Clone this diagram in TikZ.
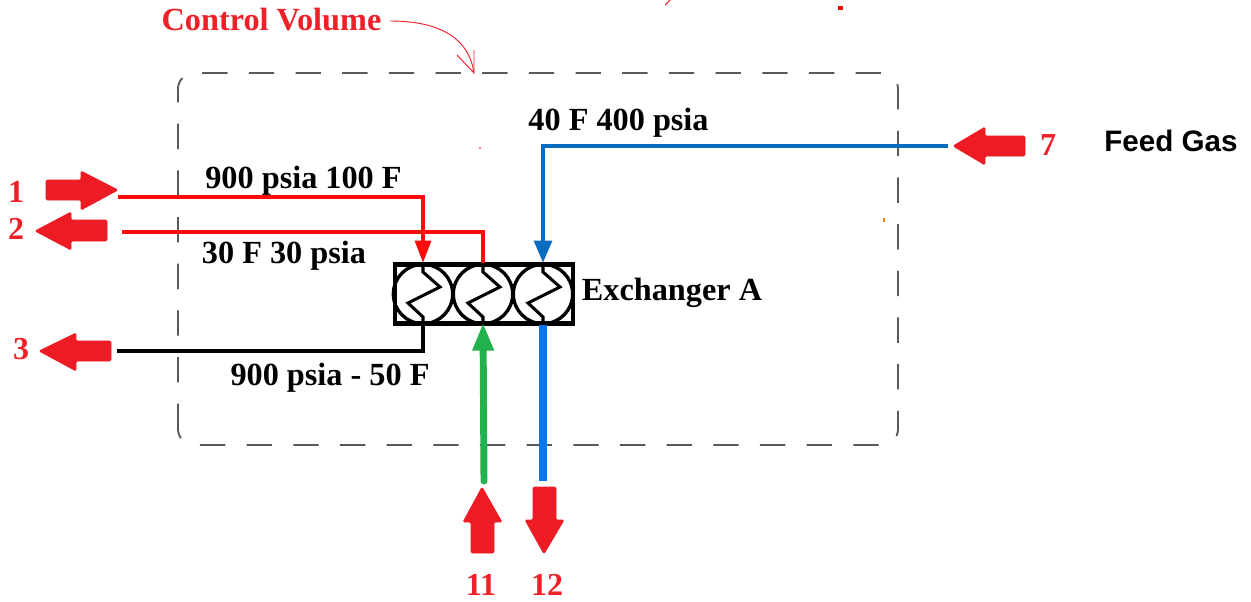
\documentclass[tikz,border=0pt]{standalone}
\usepackage{fontspec}
\setmainfont{Liberation Serif}
\newfontfamily\labsans{Liberation Sans}
\usetikzlibrary{arrows.meta}
\definecolor{blockred}{HTML}{ED1C24}
\definecolor{labred}{HTML}{F02028}
\definecolor{linered}{HTML}{FF0A0A}
\definecolor{darkblue}{HTML}{0A6CC0}
\definecolor{brightblue}{HTML}{0078F5}
\definecolor{midgreen}{HTML}{22B14C}
\tikzset{
  x=0.75pt,y=-0.75pt,
  lab/.style={font=\fontsize{24.2pt}{26pt}\selectfont\bfseries,inner sep=0pt,anchor=base},
  numlab/.style={lab,text=labred,font=\fontsize{24pt}{26pt}\selectfont\bfseries},
  blockarrow/.style={fill=blockred,draw=blockred,line width=0.5pt,line join=round,rounded corners=1pt},
  pipe/.style={line width=2.3pt,line join=miter},
  wind/.style={circle,draw=black,line width=2.5pt,fill=white,minimum size=44.5pt,inner sep=0pt},
  zig/.style={line width=2.3pt,black,line join=miter},
}
\begin{document}
\begin{tikzpicture}
\useasboundingbox (0,0) rectangle (1251,601);
% control volume
\draw[black!65,line width=1.4pt,dash pattern=on 19pt off 16pt,rounded corners=12pt] (178,445) rectangle (898,73);
% exchanger
\node[minimum width=132.5pt,minimum height=43.3pt,inner sep=0pt,outer sep=0pt,fill=white] (ex) at (483.5,294) {};
\foreach \n/\cx in {c1/423,c2/483,c3/543}{
  \node[wind] (\n) at (\cx,294) {};
}
\draw[black,line width=3.4pt] ([yshift=-0.4pt]ex.south west) rectangle ([xshift=0.8pt,yshift=0.4pt]ex.north east);
\foreach \n in {c1,c2,c3}{
  \draw[zig] (\n.center) ++(0,-30) -- ++(0,8) -- ++(17,15) -- ++(-32,16) -- ++(15,14) -- ++(0,7);
}
% free ends
\coordinate (s1) at (118,197);
\coordinate (s2) at (122,232);
\coordinate (s3) at (117,351);
\coordinate (s7) at (948,146);
\coordinate (s11) at (484,481);
\coordinate (s12) at (543,481);
\coordinate (cvt) at (390,21);
\coordinate (cvh) at (474,73);
% pipes
\draw[pipe,linered,-{Triangle[length=16.5pt,width=12pt]}] (s1) -| (c1.north);
\draw[pipe,linered] (s2) -| (c2.north);
\draw[pipe,black] (s3) -| (c1.south);
\draw[pipe,darkblue,-{Triangle[length=16.5pt,width=13.5pt]}] (s7) -| (c3.north);
\draw[line width=5.2pt,midgreen,line cap=round,-{Triangle[length=21pt,width=15pt]}] (s11) -- ([yshift=2pt]c2.south);
\draw[line width=5.4pt,brightblue] (s12) -- (c3.south);
% control volume pointer
\draw[labred,line width=0.7pt] (cvt) .. controls (430,21) and (468,32) .. (cvh);
\draw[labred,line width=0.7pt] (457,55) -- (cvh) -- (474,50);
% block arrows
\draw[blockarrow] (46,180) -- (81,180) -- (81,171) -- (118,190) -- (81,210) -- (81,200) -- (46,200) -- cycle;
\draw[blockarrow] (107,220) -- (71,220) -- (71,212) -- (35,231) -- (71,250) -- (71,241) -- (107,241) -- cycle;
\draw[blockarrow] (111,341) -- (76,341) -- (76,333) -- (39,351) -- (76,371) -- (76,361) -- (111,361) -- cycle;
\draw[blockarrow] (1025,136) -- (985,136) -- (985,127) -- (953,146) -- (985,165) -- (985,156) -- (1025,156) -- cycle;
\draw[blockarrow] (471,553) -- (471,522) -- (463,522) -- (482,487) -- (502,522) -- (494,522) -- (494,553) -- cycle;
\draw[blockarrow] (533,487) -- (533,520) -- (525,520) -- (544,554) -- (564,520) -- (556,520) -- (556,487) -- cycle;
% texts
\node[lab,text=labred] (tcv) at (271.5,30) {Control Volume};
\node[lab] (t40) at (618.5,130) {40 F 400 psia};
\node[lab] (t900) at (303.5,188) {900 psia 100 F};
\node[lab] (t30) at (284,263) {30 F 30 psia};
\node[lab] (t950) at (330,385) {900 psia - 50 F};
\node[lab] (tex) at (672,300) {Exchanger A};
\node[lab,font=\fontsize{22.2pt}{26pt}\selectfont\labsans\bfseries] (tfg) at (1171,151) {Feed Gas};
\node[numlab] (n1) at (16,202) {1};
\node[numlab] (n2) at (16,239) {2};
\node[numlab] (n3) at (21,359) {3};
\node[numlab] (n7) at (1048,155) {7};
\node[numlab] (n11) at (481,595) {11};
\node[numlab] (n12) at (547,595) {12};
% small specks
\draw[labred,line width=0.8pt] (665,5) -- (670,0);
\fill[red] (838,6) rectangle (843,10);
\fill[orange] (883,218) rectangle (885,222);
\fill[red!50] (479,147) rectangle (481,149);
\end{tikzpicture}
\end{document}
